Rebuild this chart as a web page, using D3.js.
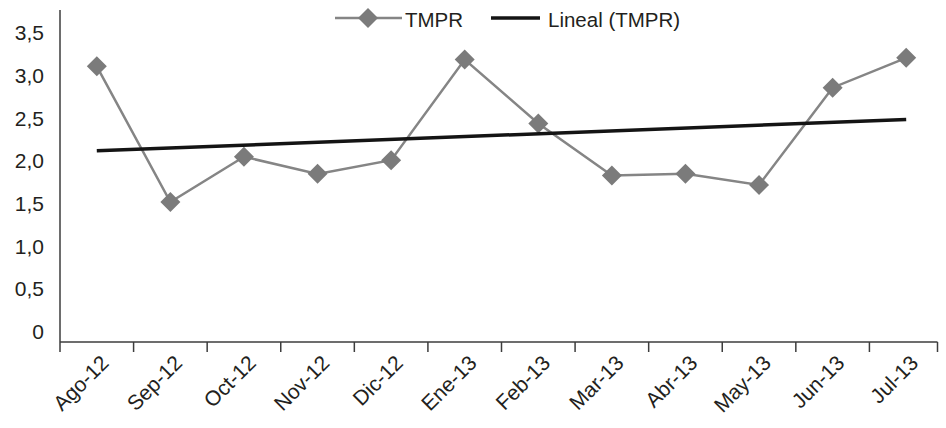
<!DOCTYPE html>
<html>
<head>
<meta charset="utf-8">
<script src="https://cdn.jsdelivr.net/npm/d3@7"></script>
<style>
    body { margin: 0; background: #fff; }
    text { font-family: "Liberation Sans", Arial, sans-serif; fill: #231f20; }
</style>
</head>
<body>
<div class="container"></div>
<script>
const WIDTH = 946;
const HEIGHT = 428;
const AXIS_END = 937.5;

var months = ["Ago-12", "Sep-12", "Oct-12", "Nov-12", "Dic-12", "Ene-13",
    "Feb-13", "Mar-13", "Abr-13", "May-13", "Jun-13", "Jul-13"];
var tmpr = [3.11, 1.52, 2.05, 1.85, 2.01, 3.19, 2.44, 1.83, 1.85, 1.72, 2.86, 3.21];
var yTicks = [0, 0.5, 1, 1.5, 2, 2.5, 3, 3.5];
var yTickLabels = ["0", "0,5", "1,0", "1,5", "2,0", "2,5", "3,0", "3,5"];

var translate = function (x, y) {
    return "translate(" + x + "," + y + ")";
};

// least squares fit over the month index, like Excel's linear trend
var linearFit = function (values) {
    var n = values.length;
    var mx = (n - 1) / 2;
    var my = d3.mean(values);
    var sxy = d3.sum(values, function (v, i) { return (i - mx) * (v - my); });
    var sxx = d3.sum(values, function (v, i) { return (i - mx) * (i - mx); });
    var slope = sxy / sxx;
    return values.map(function (v, i) { return my + slope * (i - mx); });
};

var _xScale = d3.scaleBand()
    .domain(months)
    .range([60, 943]);

var _yScale = d3.scaleLinear()
    .domain([-0.12, 3.77])
    .range([342, 10]);

var cx = function (d) { return _xScale(d) + _xScale.bandwidth() / 2; };

var draw = function () {
    var svg = d3.select('.container').append('svg')
        .attr('width', WIDTH)
        .attr('height', HEIGHT);

    var axisColor = "#3d3d3d";

    // y axis labels
    var yAxis = d3.axisLeft(_yScale)
        .tickValues(yTicks)
        .tickSize(0)
        .tickPadding(16)
        .tickFormat(function (d, i) { return yTickLabels[i]; });

    var gy = svg.append('g')
        .attr('transform', translate(60, 0))
        .call(yAxis);
    gy.select('.domain').remove();
    gy.selectAll('text')
        .attr('font-size', 21)
        .attr('font-family', '"Liberation Sans", Arial, sans-serif')
        .attr('fill', '#231f20');

    svg.append('line')
        .attr('x1', 60).attr('x2', 60)
        .attr('y1', _yScale.range()[1]).attr('y2', _yScale.range()[0])
        .attr('stroke', axisColor).attr('stroke-width', 1.5);

    // x axis line and category boundary ticks
    var x0 = _xScale.range()[0];
    var y0 = _yScale.range()[0];
    svg.append('line')
        .attr('x1', x0).attr('x2', AXIS_END)
        .attr('y1', y0).attr('y2', y0)
        .attr('stroke', axisColor).attr('stroke-width', 1.5);

    var bounds = months.map(function (d) { return _xScale(d); }).concat([AXIS_END]);
    svg.append('g').selectAll('line')
        .data(bounds)
        .enter().append('line')
        .attr('x1', function (d) { return d; })
        .attr('x2', function (d) { return d; })
        .attr('y1', y0).attr('y2', y0 + 10)
        .attr('stroke', axisColor).attr('stroke-width', 1.5);

    svg.append('g').selectAll('text')
        .data(months)
        .enter().append('text')
        .attr('transform', function (d) { return translate(cx(d) + 8, y0 + 17) + " rotate(-45)"; })
        .attr('text-anchor', 'end')
        .attr('dy', '0.35em')
        .attr('font-size', 21)
        .text(function (d) { return d; });

    // series line
    var line = d3.line()
        .x(function (d, i) { return cx(months[i]); })
        .y(function (d) { return _yScale(d); });

    svg.append('path')
        .datum(tmpr)
        .attr('d', line)
        .attr('fill', 'none')
        .attr('stroke', '#858585')
        .attr('stroke-width', 2.5);

    var diamond = d3.symbol().type(d3.symbolSquare).size(200);

    svg.append('g').selectAll('path')
        .data(tmpr)
        .enter().append('path')
        .attr('d', diamond)
        .attr('transform', function (d, i) { return translate(cx(months[i]), _yScale(d)) + " rotate(45)"; })
        .attr('fill', '#7b7b7b');

    // trend line
    var trend = linearFit(tmpr);
    svg.append('path')
        .datum([trend[0], trend[trend.length - 1]])
        .attr('d', d3.line()
            .x(function (d, i) { return i === 0 ? cx(months[0]) : cx(months[months.length - 1]); })
            .y(function (d) { return _yScale(d); }))
        .attr('stroke', '#141414')
        .attr('stroke-width', 3.5)
        .attr('fill', 'none');

    // legend
    var legend = svg.append('g').attr('transform', translate(0, 18));
    legend.append('line')
        .attr('x1', 335).attr('x2', 402)
        .attr('stroke', '#858585').attr('stroke-width', 2.5);
    legend.append('path')
        .attr('d', diamond)
        .attr('transform', translate(368, 0) + " rotate(45)")
        .attr('fill', '#7b7b7b');
    legend.append('text')
        .attr('x', 405).attr('y', 9)
        .attr('font-size', 20.5)
        .text("TMPR");
    legend.append('line')
        .attr('x1', 491).attr('x2', 540)
        .attr('stroke', '#141414').attr('stroke-width', 3.5);
    legend.append('text')
        .attr('x', 548).attr('y', 9)
        .attr('font-size', 20.5)
        .text("Lineal (TMPR)");
};

window.onload = draw;
</script>
</body>
</html>
